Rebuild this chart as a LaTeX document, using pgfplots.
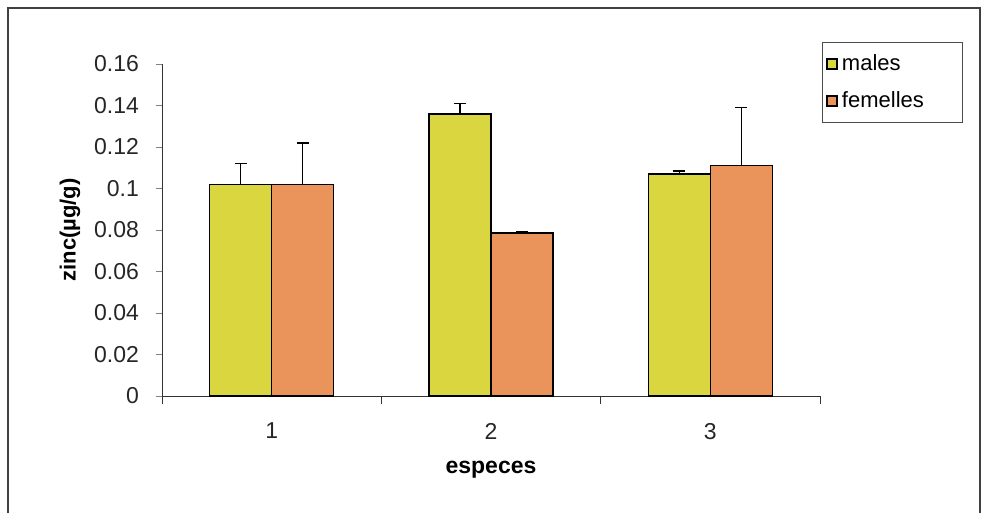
\documentclass[border=0pt]{standalone}
\usepackage{fontspec}
\setmainfont{Liberation Sans}
\usepackage{pgfplots}
\pgfplotsset{compat=1.18}
\definecolor{barY}{RGB}{218,214,64}
\definecolor{barO}{RGB}{234,148,92}
\begin{document}
\begin{tikzpicture}
\useasboundingbox (0,0) rectangle (492pt,-256.5pt);
\draw[black!75, line width=0.8pt] (4pt,-256.5pt) -- (4pt,-4pt) -- (490pt,-4pt) -- (490pt,-256.5pt);
\begin{axis}[
  at={(81pt,-198pt)}, anchor=south west,
  scale only axis, width=329pt, height=166pt,
  ybar=0pt, bar width=31pt,
  xmin=0.5, xmax=3.5, ymin=0, ymax=0.16,
  axis x line=bottom, axis y line=left, axis line style={-, black!80},
  xtick={1,2,3}, xticklabels={1,2,3},
  minor xtick={0.5,1.5,2.5,3.5},
  major x tick style={draw=none},
  minor x tick style={draw=black!80},
  minor tick length=4pt,
  ytick={0,0.02,...,0.16},
  yticklabels={0,0.02,0.04,0.06,0.08,0.1,0.12,0.14,0.16},
  major tick length=3pt, tick align=outside,
  tick label style={font=\fontsize{11.5}{12}\selectfont, text=black!85},
  x tick label style={yshift=-7pt},
  y tick label style={xshift=-5pt},
  /pgf/number format/assume math mode=true,
  ylabel={\textbf{zinc(µg/g)}},
  ylabel style={at={(axis description cs:-0.14,0.5)}, anchor=center, font=\fontsize{11}{12}\selectfont},
  xlabel={\textbf{especes}},
  xlabel style={at={(axis description cs:0.5,-0.223)}, anchor=center, font=\fontsize{11.5}{12}\selectfont},
  legend style={at={(rel axis cs:1.003,1.066)}, anchor=north west, draw=black!70,
    font=\fontsize{11}{12}\selectfont, row sep=5pt, inner xsep=2pt, inner ysep=4pt,
    text width=56pt, cells={anchor=west}},
  legend image code/.code={\draw[#1, draw=black, line width=0.8pt] (0pt,-2.5pt) rectangle (5pt,2.5pt);},
  legend cell align=left,
]
\addplot[fill=barY, draw=black, line width=0.8pt,
  error bars/.cd, y dir=plus, y explicit, error mark=|, error bar style={black, line width=0.8pt}, error mark options={mark size=3pt, line width=0.8pt}]
  coordinates {(1,0.102) +- (0,0.010) (2,0.136) +- (0,0.005) (3,0.107) +- (0,0.0015)};
\addplot[fill=barO, draw=black, line width=0.8pt,
  error bars/.cd, y dir=plus, y explicit, error mark=|, error bar style={black, line width=0.8pt}, error mark options={mark size=3pt, line width=0.8pt}]
  coordinates {(1,0.102) +- (0,0.020) (2,0.0785) +- (0,0.0008) (3,0.111) +- (0,0.028)};
\legend{males,femelles}
\end{axis}
\end{tikzpicture}
\end{document}
